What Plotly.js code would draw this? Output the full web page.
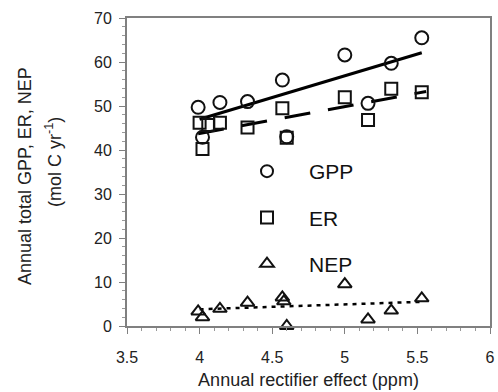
<!DOCTYPE html>
<html>
<head>
<meta charset="utf-8">
<script src="https://cdn.plot.ly/plotly-3.0.1.min.js"></script>
<style>
html,body{margin:0;padding:0;background:#fff;}
#chart{width:498px;height:392px;}
</style>
</head>
<body>
<div id="chart"></div>
<script>
const gppX = [3.99, 4.02, 4.14, 4.33, 4.57, 4.60, 5.00, 5.16, 5.32, 5.53];
const gppY = [49.7, 42.9, 50.8, 51.0, 55.9, 43.0, 61.6, 50.6, 59.7, 65.5];
const erX  = [4.00, 4.02, 4.06, 4.14, 4.33, 4.57, 4.60, 5.00, 5.16, 5.32, 5.53];
const erY  = [46.2, 40.2, 45.7, 46.2, 45.1, 49.5, 42.8, 52.0, 46.8, 53.9, 53.1];
const nepX = [3.99, 4.02, 4.14, 4.33, 4.57, 4.58, 4.60, 5.00, 5.16, 5.32, 5.53];
const nepY = [3.3, 2.0, 3.9, 5.3, 6.5, 5.6, 0.0, 9.5, 1.5, 3.5, 6.3];
// Trend line end points
const gppFitX = [4.00, 5.53];
const gppFitY = [47.0, 62.1];
const erFitX  = [3.99, 5.56];
const erFitY  = [43.7, 53.3];
const nepFitX = [4.00, 5.53];
const nepFitY = [3.8, 5.5];
const seriesNames = ['GPP', 'ER', 'NEP'];
const xTickVals = [3.5, 4, 4.5, 5, 5.5, 6];
const xTickText = ['3.5', '4', '4.5', '5', '5.5', '6'];
const yTickVals = [0, 10, 20, 30, 40, 50, 60, 70];

const FONT = 'Liberation Sans, Arial, sans-serif';
const mk = (sym, sz) => ({symbol: sym, size: sz, color: '#111', line: {color: '#111', width: 2}});

const traces = [
  {x: gppFitX, y: gppFitY, mode: 'lines', line: {color: '#000', width: 3}, showlegend: false, hoverinfo: 'skip'},
  {x: erFitX, y: erFitY, mode: 'lines', line: {color: '#000', width: 3, dash: '26px,18px'}, showlegend: false, hoverinfo: 'skip'},
  {x: nepFitX, y: nepFitY, mode: 'lines', line: {color: '#000', width: 2.5, dash: '4px,5px'}, showlegend: false, hoverinfo: 'skip'},
  {x: gppX, y: gppY, name: seriesNames[0], legendgroup: 'a', mode: 'markers', marker: mk('circle-open', 13), cliponaxis: false},
  {x: erX, y: erY, name: seriesNames[1], legendgroup: 'b', mode: 'markers', marker: mk('square-open', 12), cliponaxis: false},
  {x: nepX, y: nepY, name: seriesNames[2], legendgroup: 'c', mode: 'markers', marker: mk('triangle-up-open', 12), cliponaxis: false}
];

const W = 498, H = 392, L = 127, R = 8, T = 18, B = 66;
const pw = W - L - R, ph = H - T - B;
const px2x = (p) => (p - L) / pw;
const py2y = (p) => (H - B - p) / ph;

const layout = {
  width: W, height: H,
  margin: {l: L, r: R, t: T, b: B, pad: 0},
  paper_bgcolor: '#fff', plot_bgcolor: '#fff',
  font: {family: FONT, color: '#222'},
  showlegend: true,
  legend: {
    x: px2x(225), y: py2y(151), xanchor: 'left', yanchor: 'top',
    bgcolor: 'rgba(0,0,0,0)', borderwidth: 0,
    font: {family: FONT, size: 21, color: '#111'},
    itemsizing: 'constant', itemwidth: 74, tracegroupgap: 16,
    traceorder: 'grouped'
  },
  xaxis: {
    range: [3.5, 6], tickvals: xTickVals, ticktext: xTickText,
    showgrid: false, zeroline: false,
    showline: true, linecolor: '#808080', linewidth: 2, mirror: true,
    ticks: 'outside', ticklen: 6, tickwidth: 1, tickcolor: '#808080',
    minor: {dtick: 0.1, ticks: 'outside', ticklen: 3, tickwidth: 1, tickcolor: '#999', showgrid: false},
    tickfont: {family: FONT, size: 16, color: '#222'},
    ticklabelstandoff: 10,
    title: {text: 'Annual rectifier effect (ppm)', font: {family: FONT, size: 18, color: '#222'}, standoff: 8}
  },
  yaxis: {
    range: [0, 70], tickvals: yTickVals,
    showgrid: false, zeroline: false,
    showline: true, linecolor: '#808080', linewidth: 2, mirror: true,
    ticks: 'outside', ticklen: 6, tickwidth: 1, tickcolor: '#808080',
    minor: {dtick: 2, ticks: 'outside', ticklen: 3, tickwidth: 1, tickcolor: '#999', showgrid: false},
    tickfont: {family: FONT, size: 16, color: '#222'},
    ticklabelstandoff: 4
  },
  annotations: [
    {text: 'Annual total GPP, ER, NEP', xref: 'paper', yref: 'paper', x: px2x(25), y: py2y(176), textangle: -90,
     showarrow: false, xanchor: 'center', yanchor: 'middle', font: {family: FONT, size: 18, color: '#222'}},
    {text: '(mol C yr<sup>-1</sup>)', xref: 'paper', yref: 'paper', x: px2x(53), y: py2y(162), textangle: -90,
     showarrow: false, xanchor: 'center', yanchor: 'middle', font: {family: FONT, size: 18, color: '#222'}}
  ]
};

Plotly.newPlot('chart', traces, layout, {displayModeBar: false, staticPlot: true});
</script>
</body>
</html>
